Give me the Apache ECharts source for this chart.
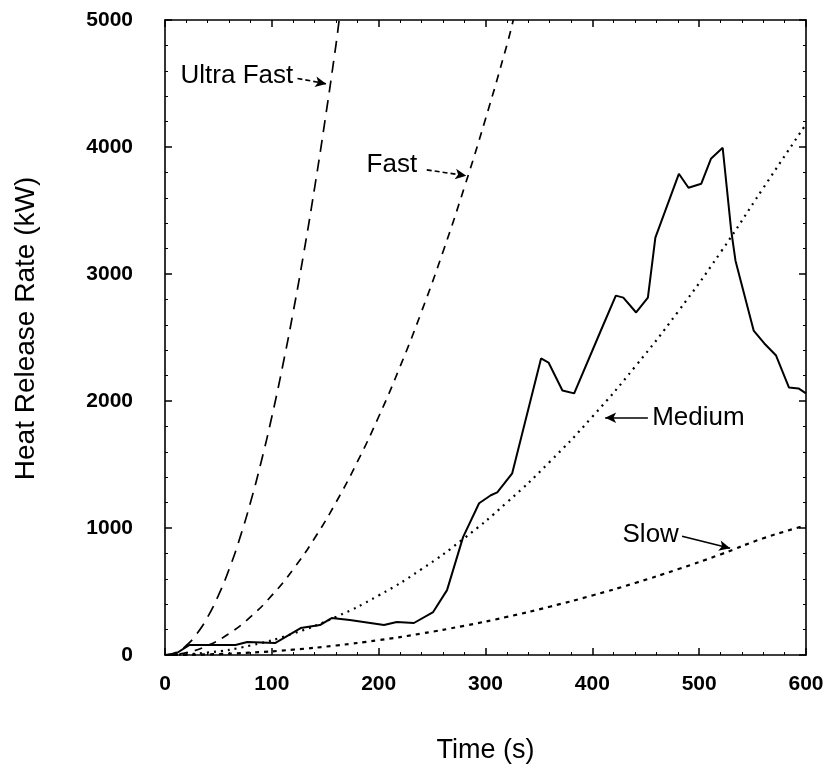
<!doctype html>
<html lang="en">
<head>
    <meta charset="UTF-8">
    <script src="https://cdn.jsdelivr.net/npm/echarts@6/dist/echarts.min.js"></script>
    <title>Heat Release Rate</title>
    <style>
        html, body { margin: 0; padding: 0; background: #fff; }
    </style>
</head>
<body>
<div id="main" style="width: 830px;height:773px;"></div>
<script type="text/javascript">
    // t-squared design curves
    var ultraT = [0, 10, 20, 30, 40, 50, 60, 70, 80, 90, 100, 110, 120, 130, 140, 150, 160, 163];
    var ultraQ = [0, 19, 75, 169, 300, 469, 675, 919, 1201, 1520, 1876, 2270, 2701, 3170, 3677, 4221, 4803, 5000];
    var fastT = [0, 20, 40, 60, 80, 100, 120, 140, 160, 180, 200, 220, 240, 260, 280, 300, 320, 326];
    var fastQ = [0, 19, 75, 169, 300, 469, 675, 919, 1201, 1520, 1876, 2270, 2701, 3170, 3677, 4221, 4803, 5000];
    var slowMedT = [0, 40, 80, 120, 160, 200, 240, 280, 320, 360, 400, 440, 480, 520, 560, 600];
    var mediumQ = [0, 19, 75, 169, 300, 469, 675, 919, 1201, 1520, 1876, 2270, 2701, 3170, 3677, 4180];
    var slowQ = [0, 5, 19, 42, 75, 117, 169, 230, 300, 380, 469, 567, 675, 792, 919, 1020];

    // measured curve
    var testT = [0, 10, 23, 66, 77, 103, 127, 145, 156, 173, 205, 217, 233, 251, 264, 279, 294, 305, 311, 325,
        352, 359, 372, 383, 408, 422, 429, 441, 452, 459, 481, 490, 502, 511, 522, 530, 534, 551, 561, 572, 584, 593, 600];
    var testQ = [0, 10, 79, 79, 102, 94, 212, 236, 291, 275, 236, 260, 252, 338, 511, 928, 1195, 1258, 1281, 1431,
        2335, 2303, 2083, 2060, 2555, 2830, 2814, 2697, 2814, 3286, 3789, 3679, 3711, 3907, 3994, 3341, 3105, 2555, 2453, 2358, 2107, 2099, 2060];

    // annotations: [text, textT, textQ, align, arrowFromT, arrowFromQ, arrowToT, arrowToQ, dashed]
    var notes = [
        ['Ultra Fast', 120, 4563, 'right', 124, 4540, 151, 4497, true],
        ['Fast', 236, 3858, 'right', 245, 3820, 282, 3774, true],
        ['Medium', 456, 1866, 'left', 452, 1868, 412, 1868, false],
        ['Slow', 481, 945, 'right', 484, 935, 529, 840, false]
    ];

    function pairs(xs, ys) {
        var out = [];
        for (var i = 0; i < xs.length; i++) out.push([xs[i], ys[i]]);
        return out;
    }

    var myChart = echarts.init(document.getElementById('main'));

    var font = '"Liberation Sans", Arial, sans-serif';
    var tickLabel = {
        color: '#000', fontFamily: font, fontWeight: 'bold', fontSize: 21,
        formatter: function (v) { return String(v); }
    };
    var axLine = { show: true, onZero: false, lineStyle: { color: '#000', width: 1.6 } };
    var tick = { inside: true, length: 7, lineStyle: { color: '#000', width: 1.5 } };
    var minor = { show: true, splitNumber: 5, length: 3, lineStyle: { color: '#000' } };

    var arrows = notes.map(function (n) {
        return [
            { coord: [n[4], n[5]], lineStyle: { type: n[8] ? [5, 3] : 'solid' } },
            { coord: [n[6], n[7]] }
        ];
    });

    var option = {
        animation: false,
        backgroundColor: '#fff',
        grid: { left: 165, right: 24, top: 20, bottom: 118 },
        xAxis: [{
            type: 'value', min: 0, max: 600, interval: 100,
            name: 'Time (s)', nameLocation: 'middle', nameGap: 82,
            nameTextStyle: { color: '#000', fontFamily: font, fontSize: 27 },
            axisLine: axLine, axisTick: tick, minorTick: minor,
            axisLabel: Object.assign({ margin: 19 }, tickLabel),
            splitLine: { show: false }
        }, {
            type: 'value', position: 'top', min: 0, max: 600, interval: 100,
            axisLine: axLine, axisTick: tick, minorTick: minor,
            axisLabel: { show: false },
            splitLine: { show: false }
        }],
        yAxis: [{
            type: 'value', min: 0, max: 5000, interval: 1000,
            name: 'Heat Release Rate (kW)', nameLocation: 'middle', nameGap: 125,
            nameTextStyle: { color: '#000', fontFamily: font, fontSize: 28, padding: [0, 0, 0, 18] },
            axisLine: axLine, axisTick: tick, minorTick: minor,
            axisLabel: Object.assign({ margin: 32 }, tickLabel),
            splitLine: { show: false }
        }, {
            type: 'value', position: 'right', min: 0, max: 5000, interval: 1000,
            axisLine: axLine, axisTick: tick, minorTick: minor,
            axisLabel: { show: false },
            splitLine: { show: false }
        }],
        series: [{
            name: 'Ultra Fast', type: 'line', smooth: true, showSymbol: false,
            data: pairs(ultraT, ultraQ),
            lineStyle: { color: '#000', width: 1.7, type: [12, 8] }
        }, {
            name: 'Fast', type: 'line', smooth: true, showSymbol: false,
            data: pairs(fastT, fastQ),
            lineStyle: { color: '#000', width: 1.7, type: [8, 7] }
        }, {
            name: 'Medium', type: 'line', smooth: true, showSymbol: false,
            data: pairs(slowMedT, mediumQ),
            lineStyle: { color: '#000', width: 2.2, type: [2, 5] }
        }, {
            name: 'Slow', type: 'line', smooth: true, showSymbol: false,
            data: pairs(slowMedT, slowQ),
            lineStyle: { color: '#000', width: 2.2, type: [4, 5] }
        }, {
            name: 'Test', type: 'line', smooth: false, showSymbol: false,
            data: pairs(testT, testQ),
            lineStyle: { color: '#000', width: 2 },
            markLine: {
                silent: true, symbol: ['none', 'arrow'], symbolSize: [8, 11],
                label: { show: false },
                lineStyle: { color: '#000', width: 1.6 },
                data: arrows
            }
        }]
    };

    myChart.setOption(option);

    // annotation texts placed in data coordinates
    var texts = notes.map(function (n) {
        var p = myChart.convertToPixel({ gridIndex: 0 }, [n[1], n[2]]);
        return {
            type: 'text', x: p[0], y: p[1],
            style: {
                text: n[0], fill: '#000', font: '26px ' + font,
                align: n[3], verticalAlign: 'middle'
            }
        };
    });
    myChart.setOption({ graphic: texts });
</script>
</body>
</html>
